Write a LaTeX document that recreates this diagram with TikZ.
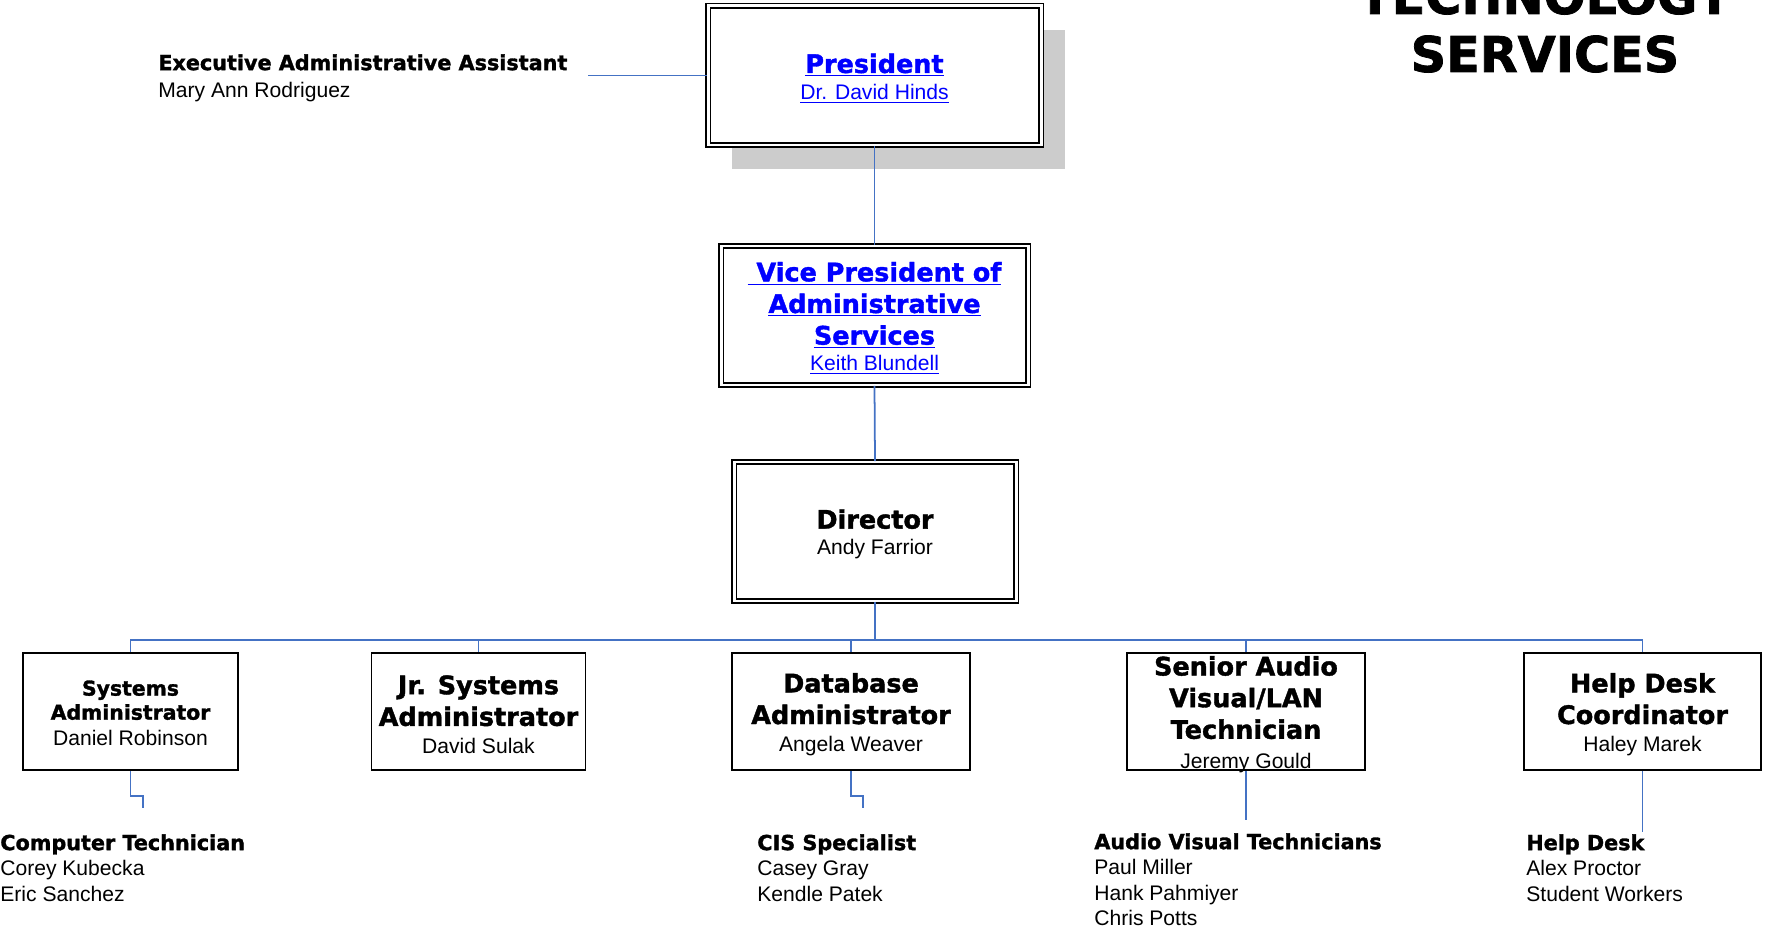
\documentclass[tikz,border=0pt]{standalone}
\usepackage{fontspec}
\setmainfont{Liberation Sans}
\newfontfamily\headfont{DejaVu Sans}[BoldFeatures={FakeBold=1.5}]
\definecolor{linkblue}{RGB}{0,0,255}
\definecolor{lineblue}{RGB}{68,114,196}
\definecolor{shadowgray}{RGB}{204,204,204}
\usetikzlibrary{positioning, shadows}
\newcommand{\namefont}{\fontsize{12}{18}\selectfont}
\newcommand{\boxtitle}{\headfont\bfseries\fontsize{14.5}{18}\selectfont}
\newcommand{\smalltitle}{\headfont\bfseries\fontsize{11.6}{13.7}\selectfont}
\newcommand{\stafftitle}{\headfont\bfseries\fontsize{11.8}{14.5}\selectfont}

\begin{document}
\begin{tikzpicture}[
    dbox/.style={draw, fill=white, double, double distance=1.7pt, line width=0.9pt,
      minimum height=2.78cm, inner sep=0pt},
    unit/.style={draw, line width=1.1pt, minimum height=2.34cm, inner sep=0pt},
    boxtext/.style={align=center, inner sep=0pt, yshift=-1.6pt, font=\namefont},
    staff/.style={anchor=north west, inner sep=0pt, align=left,
      font=\fontsize{12}{14.5}\selectfont},
    link/.style={draw=lineblue, line width=1pt},
    heading/.style={anchor=south, inner sep=0pt, align=center,
      font=\headfont\bfseries\fontsize{28}{33}\selectfont},
  ]
  \useasboundingbox (0,0) rectangle (35.3,-18.6);
  \node[heading] (title) at (30.9,-1.46) {TECHNOLOGY\\SERVICES};

  % top of the chart
  \node[dbox, minimum width=6.66cm,
    drop shadow={fill=shadowgray, opacity=1, shadow xshift=0.47cm, shadow yshift=-0.48cm},
    label={[boxtext, text=linkblue]center:{\boxtitle\underline{President}}\\[-3pt]\underline{Dr. David Hinds}}]
    (pres) at (17.49,-1.51) {};
  \node[dbox, minimum width=6.14cm,
    label={[boxtext, text=linkblue]center:{\boxtitle\underline{\ Vice President of}}\\{\boxtitle\underline{Administrative}}\\{\boxtitle\underline{Services}}\\[-3pt]\underline{Keith Blundell}}]
    (vp) at (17.49,-6.31) {};
  \node[dbox, minimum width=5.64cm,
    label={[boxtext]center:{\boxtitle Director}\\[-3pt]Andy Farrior}]
    (dir) at (17.5,-10.63) {};
  \node[staff, font=\fontsize{12}{15.4}\selectfont] (exec) at (3.16,-1.08) {%
      {\stafftitle Executive Administrative Assistant}\\Mary Ann Rodriguez%
    };
  \coordinate (execend) at (11.76,-1.51);
  \draw[link] (execend) -- (pres.west);
  \draw[link] (pres.south) -- (vp.north);
  \draw[link] (vp.south) -- (dir.north);

  % units under the director
  \node[unit, minimum width=4.29cm,
    label={[boxtext, yshift=0.6pt, font=\fontsize{12}{13.7}\selectfont]center:{\smalltitle Systems}\\{\smalltitle Administrator}\\[1.2pt]Daniel Robinson}]
    (sysadm) at (2.61,-14.23) {};
  \node[unit, minimum width=4.28cm,
    label={[boxtext]center:{\boxtitle Jr. Systems}\\{\boxtitle Administrator}\\[-2.5pt]David Sulak}]
    (jradm) at (9.57,-14.23) {};
  \node[unit, minimum width=4.76cm,
    label={[boxtext]center:{\boxtitle Database}\\{\boxtitle Administrator}\\[-2.5pt]Angela Weaver}]
    (dbadm) at (17.02,-14.23) {};
  \node[unit, minimum width=4.76cm,
    label={[boxtext]center:{\boxtitle Senior Audio}\\{\boxtitle Visual/LAN}\\{\boxtitle Technician}\\[-1.3pt]Jeremy Gould}]
    (avlan) at (24.92,-14.23) {};
  \node[unit, minimum width=4.75cm,
    label={[boxtext]center:{\boxtitle Help Desk}\\{\boxtitle Coordinator}\\[-2.5pt]Haley Marek}]
    (hdcoord) at (32.85,-14.23) {};
  \coordinate (bus) at (17.5,-12.8);
  \draw[link] (dir.south) -- (bus);
  \foreach \u in {sysadm, jradm, dbadm, avlan, hdcoord}
    \draw[link] (\u.north) |- (bus);

  % staff lists
  \node[staff] (comptech) at (0,-16.68) {%
      {\stafftitle Computer Technician}\\Corey Kubecka\\Eric Sanchez%
    };
  \node[staff] (cisspec) at (15.14,-16.68) {%
      {\stafftitle CIS Specialist}\\Casey Gray\\Kendle Patek%
    };
  \node[staff] (avtech) at (21.88,-16.66) {%
      {\stafftitle Audio Visual Technicians}\\Paul Miller\\Hank Pahmiyer\\Chris Potts%
    };
  \node[staff] (helpdesk) at (30.52,-16.68) {%
      {\stafftitle Help Desk}\\Alex Proctor\\Student Workers%
    };
  \coordinate (comptechtop) at (2.86,-16.16);
  \coordinate (cistop) at (17.26,-16.16);
  \coordinate (avtop) at (24.92,-16.4);
  \coordinate (hdtop) at (32.85,-16.64);
  \draw[link] (sysadm.south) -- ++(0,-0.5) -| (comptechtop);
  \draw[link] (dbadm.south) -- ++(0,-0.5) -| (cistop);
  \draw[link] (avlan.south) -- (avtop);
  \draw[link] (hdcoord.south) -- (hdtop);
\end{tikzpicture}
\end{document}
